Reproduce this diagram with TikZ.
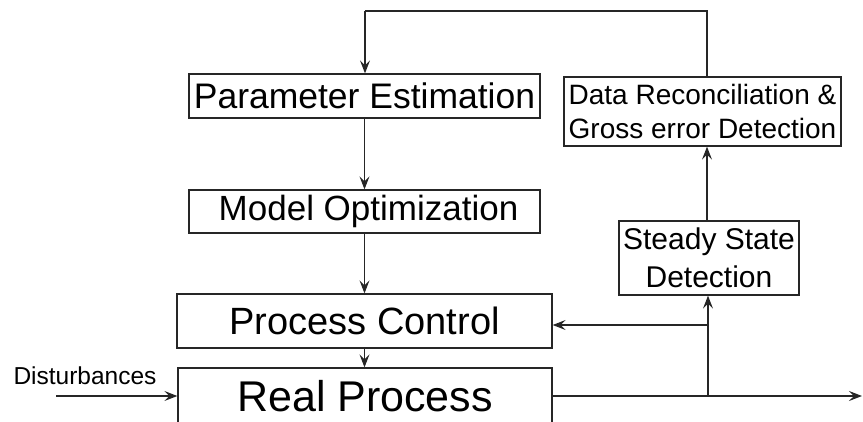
\documentclass[tikz,border=0pt]{standalone}
\usepackage{fontspec}
\setmainfont{Liberation Sans}
\usetikzlibrary{arrows.meta}
\begin{document}
\begin{tikzpicture}[x=1pt,y=-1pt,
  box/.style={draw=black!85,line width=1.3pt,inner sep=0pt,fill=white},
  conn/.style={draw=black!85,line width=1.1pt},
  arr/.style={conn,-{Stealth[length=13pt,width=10pt,inset=5pt]}}]
\useasboundingbox (0,0) rectangle (863,421);
\clip (0,0) rectangle (863,421);
\node[box,minimum width=351pt,minimum height=44pt,font=\fontsize{35.5}{40}\selectfont] (pe) at (364.5,96) {Parameter Estimation};
\node[box,minimum width=351pt,minimum height=43pt,font=\fontsize{35}{40}\selectfont] (mo) at (364.5,211.5) {\hspace{8pt}Model Optimization};
\node[box,minimum width=375pt,minimum height=54pt,font=\fontsize{38}{42}\selectfont] (pc) at (364.5,321) {Process Control};
\node[box,minimum width=374pt,minimum height=56pt,font=\fontsize{43}{48}\selectfont] (rp) at (365,396) {Real Process};
\node[box,minimum width=277pt,minimum height=69pt,align=center,font=\fontsize{28}{34}\selectfont] (dr) at (702.5,111.5) {Data Reconciliation \&\\Gross error Detection};
\node[box,minimum width=180pt,minimum height=74pt,align=center,font=\fontsize{30}{38}\selectfont] (ss) at (709,258) {Steady State\\Detection};
\node[inner sep=0pt,anchor=base,font=\fontsize{24.5}{28}\selectfont] (dist) at (85,384) {Disturbances};
\coordinate (din) at (56,396);
\coordinate (out) at (862,396);
\coordinate (j1) at (708,396);
\coordinate (j2) at (708,325);
\coordinate (tr) at (707,11);
\coordinate (tl) at (365,11);
% main column
\draw[arr] (pe.south) -- (mo.south |- mo.north);
\draw[arr] (pe.south |- mo.south) -- (pe.south |- pc.north);
\draw[arr] (pe.south |- pc.south) -- (pe.south |- rp.north);
% top feedback loop
\draw[conn] (dr.north -| tr) -- (tr) -- (tl);
\draw[arr] (tl) -- (tl |- pe.north);
% disturbances and output
\draw[arr] (din) -- (din -| rp.west);
\draw[arr] (rp.east |- out) -- (out);
% measurement branch
\draw[arr] (j1) -- (j1 |- ss.south);
\draw[arr] (j2) -- (j2 -| pc.east);
\draw[arr] (ss.north -| tr) -- (tr |- dr.south);
\end{tikzpicture}
\end{document}
